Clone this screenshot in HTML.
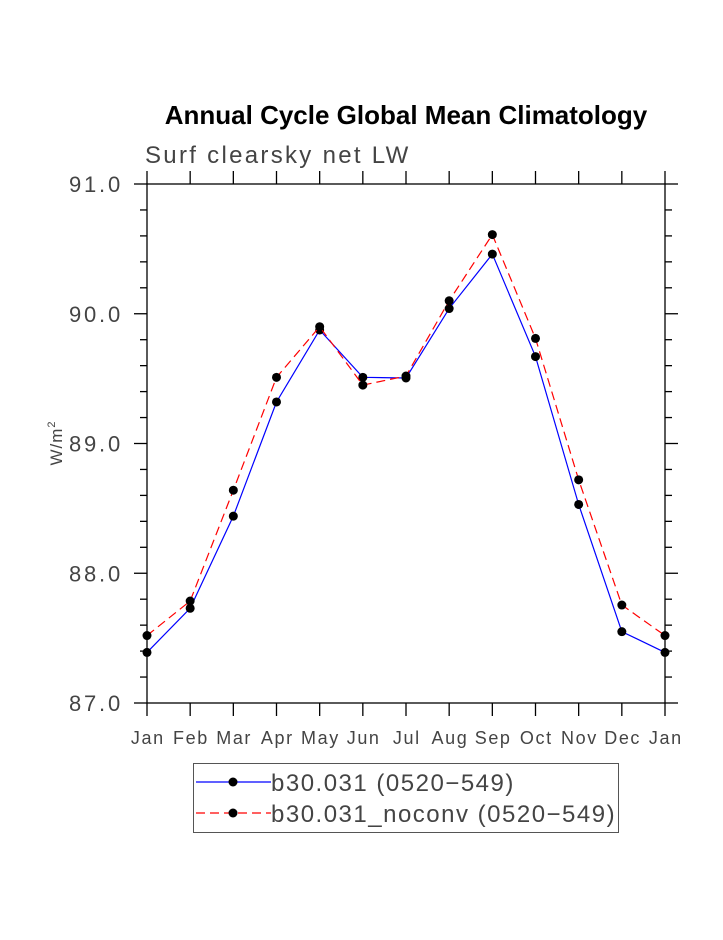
<!DOCTYPE html>
<html><head><meta charset="utf-8"><style>
body{margin:0;background:#fff;}
svg text{font-family:"Liberation Sans",sans-serif;}
</style></head><body>
<svg width="723" height="935" viewBox="0 0 723 935">
<text x="406" y="124" text-anchor="middle" font-size="26" font-weight="bold" fill="#000">Annual Cycle Global Mean Climatology</text>
<text x="145" y="163" font-size="24" letter-spacing="2.3" fill="#444">Surf clearsky net LW</text>
<text transform="translate(62,443) rotate(-90)" text-anchor="middle" font-size="17" letter-spacing="1" fill="#444">W/m<tspan font-size="11" dy="-7">2</tspan></text>
<g id="axes"></g>
<g id="series"></g>
<g>
<rect x="193.5" y="763.5" width="425" height="69" fill="none" stroke="#555" stroke-width="1"/>
<g>
<line x1="196" y1="782" x2="271" y2="782" stroke="#0000ff" stroke-width="1.2"/>
<circle cx="233" cy="782" r="4.5" fill="#000"/>
<text x="271" y="791" font-size="24" letter-spacing="1.5" fill="#444">b30.031 (0520−549)</text></g>
<g>
<line x1="196" y1="813" x2="271" y2="813" stroke="#ff0000" stroke-width="1.2" stroke-dasharray="9,5"/>
<circle cx="233" cy="813" r="4.5" fill="#000"/>
<text x="271" y="822" font-size="24" letter-spacing="1.5" fill="#444">b30.031_noconv (0520−549)</text></g>
</g>
</svg>
<script>
const months=["Jan","Feb","Mar","Apr","May","Jun","Jul","Aug","Sep","Oct","Nov","Dec","Jan"];
const seriesBlue=[87.39,87.73,88.44,89.32,89.875,89.51,89.505,90.04,90.46,89.67,88.53,87.55,87.39];
const seriesRed=[87.52,87.786,88.64,89.51,89.9,89.45,89.52,90.1,90.61,89.81,88.72,87.755,87.52];
const yTicks=["87.0","88.0","89.0","90.0","91.0"];
const NS="http://www.w3.org/2000/svg";
const X0=147,X1=665,Y0=703,Y1=184,YMIN=87,YMAX=91;
const xs=i=>X0+i*(X1-X0)/(months.length-1);
const ys=v=>Y0-(v-YMIN)/(YMAX-YMIN)*(Y0-Y1);
function mk(t,a,p){const e=document.createElementNS(NS,t);for(const k in a)e.setAttribute(k,a[k]);p.appendChild(e);return e;}
const ax=document.getElementById('axes');
const fr=mk('rect',{x:X0,y:Y1,width:X1-X0,height:Y0-Y1,fill:'none',stroke:'#000','stroke-width':1.3},ax);


months.forEach((m,i)=>{const x=xs(i);
 mk('line',{x1:x,y1:Y0,x2:x,y2:Y0+13,stroke:'#000','stroke-width':1.3},ax);
 mk('line',{x1:x,y1:Y1,x2:x,y2:Y1-13,stroke:'#000','stroke-width':1.3},ax);
 const t=mk('text',{x:x+0.8,y:Y0+41,'text-anchor':'middle','font-size':18,'letter-spacing':1.6,fill:'#444'},ax);t.textContent=m;
 
 
});
for(let k=0;k<=20;k++){const v=YMIN+k*0.2,y=ys(v),maj=k%5===0,L=maj?13:7;
 mk('line',{x1:X0-L,y1:y,x2:X0,y2:y,stroke:'#000','stroke-width':1.3},ax);
 mk('line',{x1:X1,y1:y,x2:X1+L,y2:y,stroke:'#000','stroke-width':1.3},ax);
}
yTicks.forEach(s=>{const y=ys(parseFloat(s));
 const t=mk('text',{x:123,y:y+8,'text-anchor':'end','font-size':22,'letter-spacing':2.8,fill:'#444'},ax);t.textContent=s;
 
 
});
const sg=document.getElementById('series');
function draw(vals,col,dash,name){
 const pl=mk('polyline',{points:vals.map((v,i)=>xs(i)+','+ys(v)).join(' '),fill:'none',stroke:col,'stroke-width':1.2},sg);
 if(dash)pl.setAttribute('stroke-dasharray',dash);
 
 
 vals.forEach((v,i)=>{const c=mk('circle',{cx:xs(i),cy:ys(v),r:4.5,fill:'#000'},sg);
  
  });
}
draw(seriesBlue,'#0000ff',null,'b30-031');
draw(seriesRed,'#ff0000','9,5','b30-031-noconv');
</script>
</body></html>
